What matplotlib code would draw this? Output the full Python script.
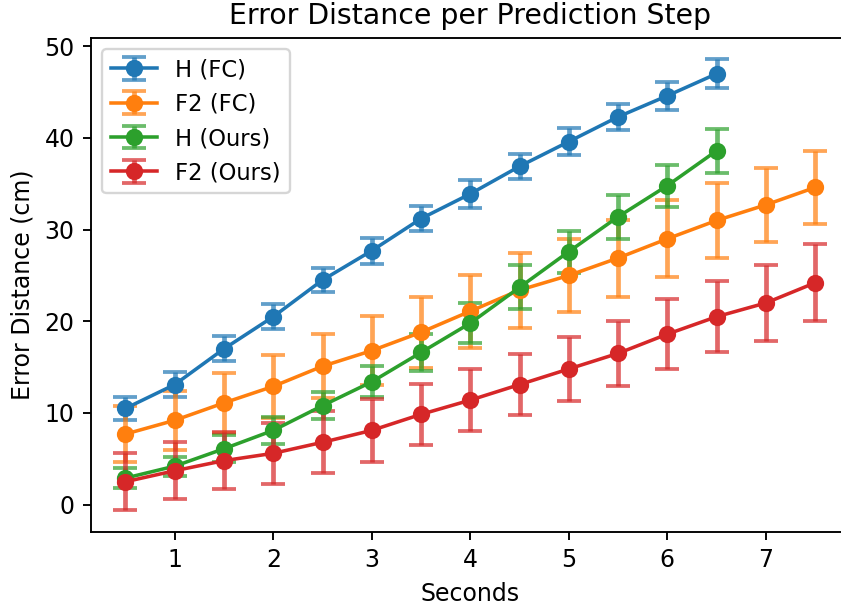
import matplotlib
matplotlib.use("Agg")
import matplotlib.pyplot as plt

x_h = [0.5, 1.0, 1.5, 2.0, 2.5, 3.0, 3.5, 4.0, 4.5, 5.0, 5.5, 6.0, 6.5]
x_f2 = [0.5, 1.0, 1.5, 2.0, 2.5, 3.0, 3.5, 4.0, 4.5, 5.0, 5.5, 6.0, 6.5, 7.0, 7.5]

h_fc = [10.5, 13.1, 17.0, 20.5, 24.5, 27.7, 31.2, 33.9, 36.9, 39.6, 42.3, 44.6, 47.0]
h_fc_err = [1.25, 1.35, 1.35, 1.35, 1.35, 1.4, 1.4, 1.5, 1.35, 1.45, 1.45, 1.5, 1.6]

f2_fc = [7.7, 9.2, 11.1, 12.9, 15.1, 16.8, 18.8, 21.1, 23.4, 25.0, 26.9, 29.0, 31.0, 32.7, 34.6]
f2_fc_err = [3.1, 3.2, 3.25, 3.4, 3.5, 3.8, 3.85, 4.0, 4.1, 4.0, 4.2, 4.2, 4.1, 4.0, 3.95]

h_ours = [2.9, 4.2, 6.1, 8.1, 10.8, 13.4, 16.6, 19.8, 23.7, 27.6, 31.4, 34.8, 38.6]
h_ours_err = [1.1, 1.05, 1.5, 1.5, 1.5, 1.7, 2.0, 2.2, 2.4, 2.3, 2.4, 2.3, 2.4]

f2_ours = [2.5, 3.7, 4.8, 5.6, 6.8, 8.1, 9.85, 11.4, 13.1, 14.8, 16.5, 18.6, 20.5, 22.0, 24.2]
f2_ours_err = [3.1, 3.1, 3.1, 3.3, 3.4, 3.4, 3.35, 3.35, 3.35, 3.5, 3.55, 3.8, 3.9, 4.1, 4.2]

labels = ["H (FC)", "F2 (FC)", "H (Ours)", "F2 (Ours)"]
colors = ["#1f77b4", "#ff7f0e", "#2ca02c", "#d62728"]

plt.rcParams['font.family'] = ['DejaVu Sans']
plt.rcParams['font.size'] = 10

DPI = 170
fig = plt.figure(figsize=(841 / DPI, 605 / DPI), dpi=DPI)
ax = fig.add_axes([91 / 841, 1 - 531.7 / 605, (849.6 - 91) / 841, (531.7 - 38) / 605])

series = [(x_h, h_fc, h_fc_err), (x_f2, f2_fc, f2_fc_err),
          (x_h, h_ours, h_ours_err), (x_f2, f2_ours, f2_ours_err)]
for (xs, ys, es), lab, c in zip(series, labels, colors):
    line, caps, bars = ax.errorbar(xs, ys, yerr=es, fmt='-o', color=c, label=lab,
                                   markersize=6.3, linewidth=1.5, elinewidth=2.0,
                                   capsize=5, capthick=1.6)
    for cp in caps:
        cp.set_alpha(0.7)
    for b in bars:
        b.set_alpha(0.7)

ax.set_xlim(0.15, 7.85)
ax.set_ylim(-2.95, 50.9)
ax.set_yticks([0, 10, 20, 30, 40, 50])
ax.set_xticks([1, 2, 3, 4, 5, 6, 7])
ax.set_title("Error Distance per Prediction Step", fontsize=12)
ax.set_xlabel("Seconds")
ax.set_ylabel("Error Distance (cm)")
ax.legend(loc="upper left", fontsize=9.6)

fig.savefig("out.png", dpi=DPI, facecolor="white")
